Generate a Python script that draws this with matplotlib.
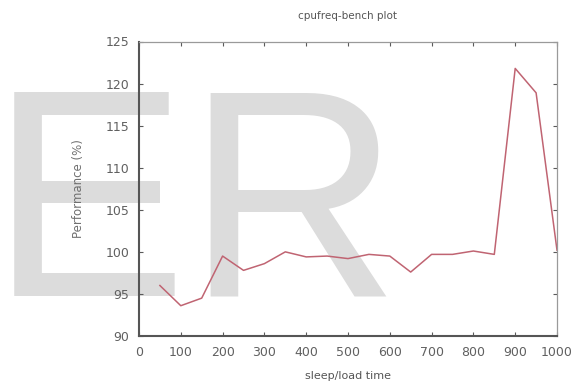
import matplotlib
matplotlib.use("Agg")
import matplotlib.pyplot as plt

# benchmark results: performance relative to baseline per sleep/load time
sleep_load = [50, 100, 150, 200, 250, 300, 350, 400, 450, 500,
              550, 600, 650, 700, 750, 800, 850, 900, 950, 1000]
performance = [96.0, 93.6, 94.5, 99.5, 97.8, 98.6, 100.0, 99.4, 99.5, 99.2,
               99.7, 99.5, 97.6, 99.7, 99.7, 100.1, 99.7, 121.8, 118.9, 100.2]

x_ticks = list(range(0, 1001, 100))
y_ticks = list(range(90, 126, 5))

TICK_COLOR = "#5a5a5a"
LINE_COLOR = "#c06472"

W, H = 575, 382
fig = plt.figure(figsize=(W / 100, H / 100), dpi=100)
fig.patch.set_facecolor("white")

ax = fig.add_axes([139 / W, 1 - 336 / H, 418 / W, 294.5 / H])
ax.patch.set_alpha(0)

ax.plot(sleep_load, performance, color=LINE_COLOR, linewidth=1.1)

ax.set_xlim(0, 1000)
ax.set_ylim(90, 125)
ax.set_xticks(x_ticks)
ax.set_yticks(y_ticks)
ax.tick_params(direction="in", length=3, width=0.8, colors=TICK_COLOR,
               labelsize=9, top=True, right=True, labelcolor="#606060", pad=7)

for side in ("left", "bottom"):
    ax.spines[side].set_color("#555555")
    ax.spines[side].set_linewidth(1.5)
for side in ("top", "right"):
    ax.spines[side].set_color("#9a9a9a")
    ax.spines[side].set_linewidth(0.9)

ax.set_title("cpufreq-bench plot", fontsize=7.5, color="#555555", pad=16)
ax.set_xlabel("sleep/load time", fontsize=8, color="#555555", labelpad=9)
ax.set_ylabel("Performance (%)", fontsize=8.5, color="#707070", labelpad=15)

# big grey watermark behind the chart
fig.text(-10 / W, 1 - 295 / H, "ER", fontsize=213, family="Liberation Sans",
         color="#dcdcdc", zorder=-1, va="baseline", ha="left")

fig.savefig("out.png", dpi=100)
